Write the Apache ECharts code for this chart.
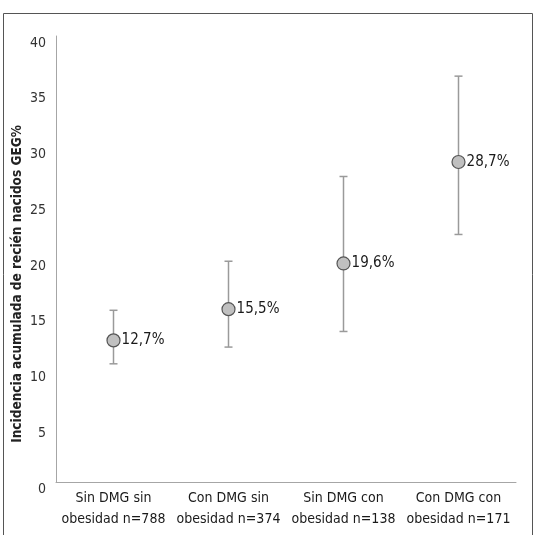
<!DOCTYPE html>
<html><head><meta charset="utf-8">
<script src="https://cdn.jsdelivr.net/npm/echarts@6/dist/echarts.min.js"></script>
<style>html,body{margin:0;padding:0;background:#fff}#c{width:535px;height:535px}</style>
</head><body><div id="c"></div>
<script>
var categories = ['Sin DMG sin\nobesidad n=788', 'Con DMG sin\nobesidad n=374', 'Sin DMG con\nobesidad n=138', 'Con DMG con\nobesidad n=171'];
var values = [12.7, 15.5, 19.6, 28.7];
var lowerCI = [10.6, 12.1, 13.5, 22.2];
var upperCI = [15.4, 19.8, 27.4, 36.4];
var pointLabels = ['12,7%', '15,5%', '19,6%', '28,7%'];
var yTicks = [0, 5, 10, 15, 20, 25, 30, 35, 40];
var yTitle = 'Incidencia acumulada de recién nacidos GEG%';

var FONT = "'Liberation Sans Narrow','DejaVu Sans Condensed','Roboto',sans-serif";
var chart = echarts.init(document.getElementById('c'), null, {renderer: 'canvas'});
var errData = categories.map(function (c, i) { return [i, lowerCI[i], upperCI[i]]; });
chart.setOption({
  animation: false,
  textStyle: {fontFamily: FONT},
  graphic: [{
    type: 'rect', shape: {x: 3.5, y: 13.5, width: 529, height: 540},
    style: {fill: 'none', stroke: '#555', lineWidth: 1}, silent: true
  }, {
    type: 'text', x: 17, y: 284, rotation: Math.PI / 2,
    style: {text: yTitle, fill: '#222', font: "bold 13.5px " + FONT, align: 'center', verticalAlign: 'middle'},
    silent: true
  }],
  grid: {left: 56, right: 19, top: 36, bottom: 53},
  xAxis: {
    type: 'category', data: categories, boundaryGap: true,
    axisLine: {lineStyle: {color: '#a6a6a6', width: 1}},
    axisTick: {show: false},
    axisLabel: {color: '#1a1a1a', fontSize: 14, fontFamily: FONT, lineHeight: 21, margin: 6, interval: 0}
  },
  yAxis: {
    type: 'value', min: yTicks[0], max: yTicks[yTicks.length - 1], interval: 5,
    axisLine: {show: true, lineStyle: {color: '#a6a6a6', width: 1}},
    axisTick: {show: false},
    splitLine: {show: false},
    axisLabel: {color: '#333', fontSize: 14, fontFamily: FONT, margin: 10, verticalAlign: 'top'}
  },
  series: [{
    type: 'custom',
    data: errData,
    renderItem: function (params, api) {
      var x = api.value(0);
      var lo = api.coord([x, api.value(1)]);
      var hi = api.coord([x, api.value(2)]);
      var hw = 4;
      var st = {stroke: '#9a9a9a', lineWidth: 1.5};
      return {type: 'group', children: [
        {type: 'line', shape: {x1: lo[0], y1: lo[1], x2: hi[0], y2: hi[1]}, style: st},
        {type: 'line', shape: {x1: lo[0] - hw, y1: lo[1], x2: lo[0] + hw, y2: lo[1]}, style: st},
        {type: 'line', shape: {x1: hi[0] - hw, y1: hi[1], x2: hi[0] + hw, y2: hi[1]}, style: st}
      ]};
    },
    z: 1
  }, {
    type: 'scatter',
    data: values,
    symbol: 'circle', symbolSize: 13,
    itemStyle: {color: '#c0c0c0', borderColor: '#555', borderWidth: 1.2, opacity: 1},
    label: {
      show: true, position: 'right', distance: 1,
      color: '#1a1a1a', fontSize: 15, fontFamily: FONT,
      formatter: function (p) { return pointLabels[p.dataIndex]; }
    },
    z: 3
  }]
});
</script></body></html>
